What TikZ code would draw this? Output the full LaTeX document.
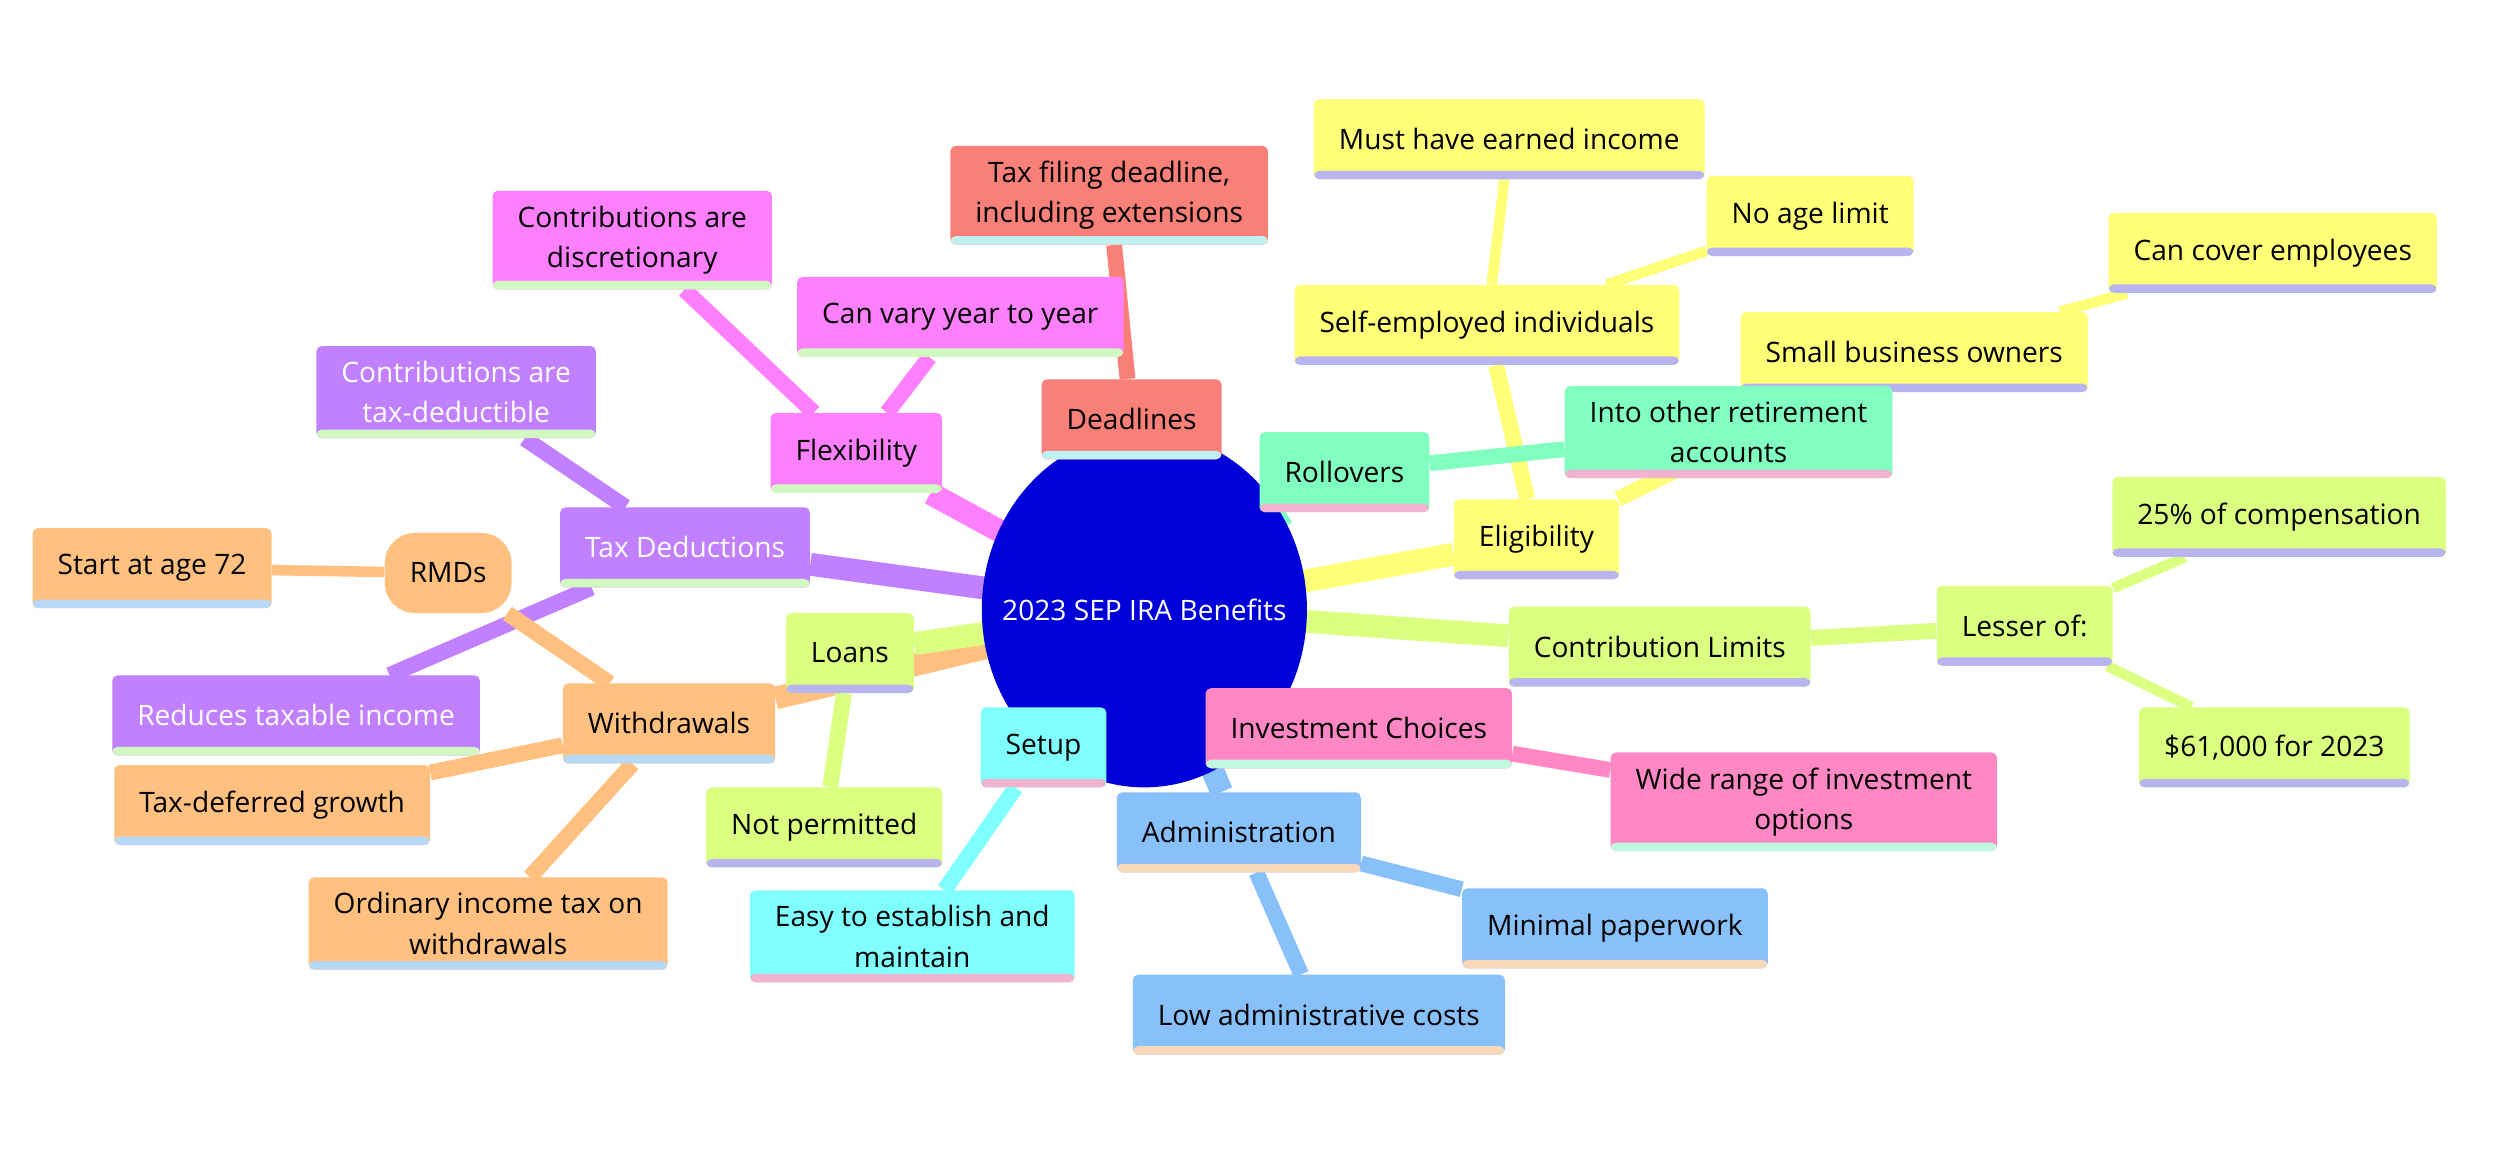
\documentclass[tikz,border=0pt]{standalone}
\usepackage{fontspec}
\setmainfont{Open Sans}
\usetikzlibrary{shapes.geometric,backgrounds}
\definecolor{cY}{HTML}{FFFF78}
\definecolor{cAq}{HTML}{80FFC0}
\definecolor{cG}{HTML}{DBFF80}
\definecolor{cPk}{HTML}{FF88C4}
\definecolor{cBl}{HTML}{88C0FA}
\definecolor{cCy}{HTML}{80FFFF}
\definecolor{cOr}{HTML}{FFC080}
\definecolor{cPu}{HTML}{C080FF}
\definecolor{cMg}{HTML}{FF80FF}
\definecolor{cSa}{HTML}{F88078}
\definecolor{sLav}{HTML}{B8B4F0}
\definecolor{sPink}{HTML}{F0B4D0}
\definecolor{sMint}{HTML}{C0F8E0}
\definecolor{sPeach}{HTML}{F8D8B8}
\definecolor{sBlue}{HTML}{B8D8F8}
\definecolor{sGrn}{HTML}{D0F8C0}
\definecolor{sCyan}{HTML}{C0F0F0}
\definecolor{rootblue}{HTML}{0000D8}
\tikzset{
  x=0.032cm, y=-0.032cm,
  mm/.style n args={2}{rectangle, rounded corners=3pt, fill=#1, align=center,
    minimum height=1.6cm, inner xsep=0.5cm, inner ysep=0.3cm,
    font=\fontsize{16}{23}\selectfont,
    path picture={\fill[#2] ([yshift=0.17cm]path picture bounding box.south west) rectangle (path picture bounding box.south east);}},
  eA/.style={line width=13pt},
  eB/.style={line width=9pt},
  eC/.style={line width=6pt},
}
\begin{document}
\begin{tikzpicture}
\useasboundingbox (0,0) rectangle (1562,717.5);
\node[ellipse, fill=rootblue, minimum width=6.5cm, minimum height=7.1cm, inner sep=0pt] (root) at (715,381) {};
\node[text=white, font=\fontsize{16}{23}\selectfont, inner sep=0pt] (roottext) at (root.center) {2023 SEP IRA Benefits};

\node[mm={cSa}{sCyan}] (dead) at (707,262) {Deadlines};
\node[mm={cSa}{sCyan}] (taxfile) at (693,122) {Tax filing deadline,\\including extensions};
\node[mm={cMg}{sGrn}] (flex) at (535,283) {Flexibility};
\node[mm={cMg}{sGrn}] (vary) at (600,198) {Can vary year to year};
\node[mm={cMg}{sGrn}] (discr) at (395,150) {Contributions are\\discretionary};
\node[mm={cPu}{sGrn}, text=white] (taxded) at (428,342) {Tax Deductions};
\node[mm={cPu}{sGrn}, text=white] (taxdedc) at (285,245) {Contributions are\\tax-deductible};
\node[mm={cPu}{sGrn}, text=white] (reduce) at (185,447) {Reduces taxable income};
\node[mm={cOr}{sBlue}] (withd) at (418,452) {Withdrawals};
\node[mm={cOr}{sBlue}, rounded corners=0.6cm, path picture={}] (rmds) at (280,358) {RMDs};
\node[mm={cOr}{sBlue}] (age72) at (95,355) {Start at age 72};
\node[mm={cOr}{sBlue}] (defer) at (170,503) {Tax-deferred growth};
\node[mm={cOr}{sBlue}] (ordin) at (305,577) {Ordinary income tax on\\withdrawals};
\node[mm={cG}{sLav}] (loans) at (531,408) {Loans};
\node[mm={cG}{sLav}] (notperm) at (515,517) {Not permitted};
\node[mm={cCy}{sPink}] (setup) at (652,467) {Setup};
\node[mm={cCy}{sPink}] (easy) at (570,585) {Easy to establish and\\maintain};
\node[mm={cBl}{sPeach}] (admin) at (774,520) {Administration};
\node[mm={cBl}{sPeach}] (minimal) at (1009,580) {Minimal paperwork};
\node[mm={cBl}{sPeach}] (lowadm) at (824,634) {Low administrative costs};
\node[mm={cPk}{sMint}] (invest) at (849,455) {Investment Choices};
\node[mm={cPk}{sMint}] (wide) at (1127,501) {Wide range of investment\\options};
\node[mm={cG}{sLav}] (contrib) at (1037,404) {Contribution Limits};
\node[mm={cG}{sLav}] (lesser) at (1265,391) {Lesser of:};
\node[mm={cG}{sLav}] (pct) at (1424,323) {25\% of compensation};
\node[mm={cG}{sLav}] (k61) at (1421,467) {\$61,000 for 2023};
\node[mm={cY}{sLav}] (elig) at (960,337) {Eligibility};
\node[mm={cY}{sLav}] (self) at (929,203) {Self-employed individuals};
\node[mm={cY}{sLav}] (must) at (943,87) {Must have earned income};
\node[mm={cY}{sLav}] (noage) at (1131,135) {No age limit};
\node[mm={cY}{sLav}] (small) at (1196,220) {Small business owners};
\node[mm={cY}{sLav}] (cover) at (1420,158) {Can cover employees};
\node[mm={cAq}{sPink}] (roll) at (840,295) {Rollovers};
\node[mm={cAq}{sPink}] (into) at (1080,270) {Into other retirement\\accounts};

\begin{scope}[on background layer]
\draw[eA,cSa] (root.center) -- (dead);
\draw[eB,cSa] (dead) -- (taxfile);
\draw[eA,cMg] (root.center) -- (flex);
\draw[eB,cMg] (flex) -- (vary);
\draw[eB,cMg] (flex) -- (discr);
\draw[eA,cPu] (root.center) -- (taxded);
\draw[eB,cPu] (taxded) -- (taxdedc);
\draw[eB,cPu] (taxded) -- (reduce);
\draw[eA,cOr] (root.center) -- (withd);
\draw[eB,cOr] (withd) -- (rmds);
\draw[eC,cOr] (rmds) -- (age72);
\draw[eB,cOr] (withd) -- (defer);
\draw[eB,cOr] (withd) -- (ordin);
\draw[eA,cG] (root.center) -- (loans);
\draw[eB,cG] (loans) -- (notperm);
\draw[eA,cCy] (root.center) -- (setup);
\draw[eB,cCy] (setup) -- (easy);
\draw[eA,cBl] (root.center) -- (admin);
\draw[eB,cBl] (admin) -- (minimal);
\draw[eB,cBl] (admin) -- (lowadm);
\draw[eA,cPk] (root.center) -- (invest);
\draw[eB,cPk] (invest) -- (wide);
\draw[eA,cG] (root.center) -- (contrib);
\draw[eB,cG] (contrib) -- (lesser);
\draw[eC,cG] (lesser) -- (pct);
\draw[eC,cG] (lesser) -- (k61);
\draw[eA,cY] (root.center) -- (elig);
\draw[eB,cY] (elig) -- (self);
\draw[eC,cY] (self) -- (must);
\draw[eC,cY] (self) -- (noage);
\draw[eB,cY] (elig) -- (small);
\draw[eC,cY] (small) -- (cover);
\draw[eA,cAq] (root.center) -- (roll);
\draw[eB,cAq] (roll) -- (into);
\end{scope}
\end{tikzpicture}
\end{document}
